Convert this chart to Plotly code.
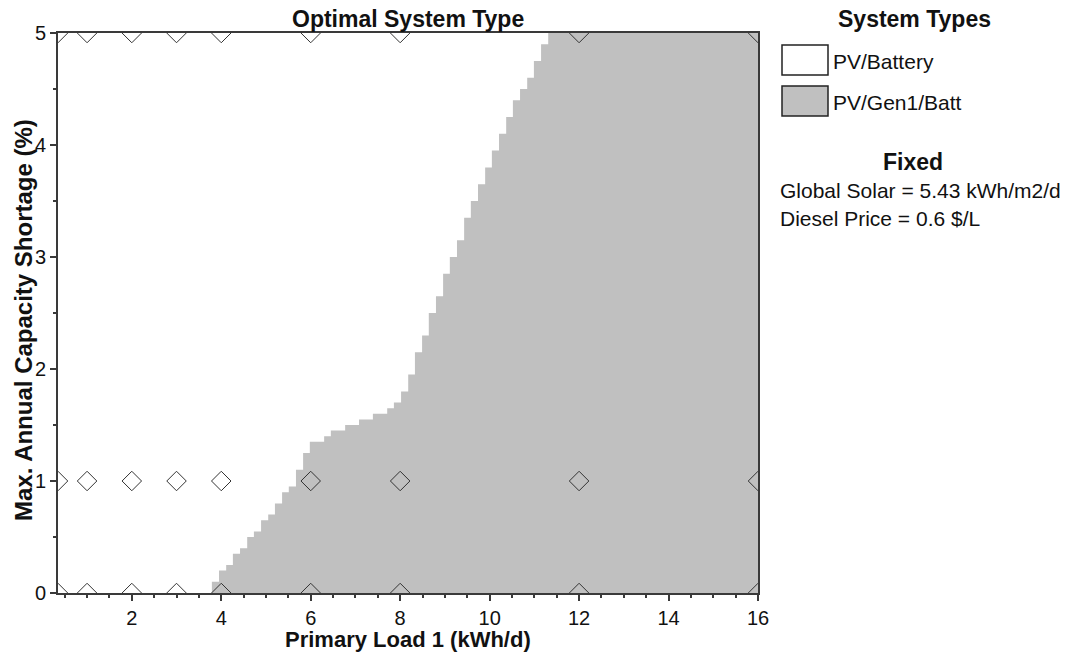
import plotly.graph_objects as go

# ---- data ----
# stepped boundary of the PV/Gen1/Batt region (left edge of each step, height)
boundary_load = [3.79, 3.95, 4.11, 4.26, 4.42, 4.58, 4.73, 4.89, 5.05, 5.20,
                 5.36, 5.51, 5.67, 5.83, 5.98, 6.30, 6.45, 6.77, 7.08, 7.39,
                 7.71, 7.86, 8.02, 8.18, 8.33, 8.49, 8.64, 8.80, 8.96, 9.11,
                 9.27, 9.43, 9.58, 9.74, 9.90, 10.05, 10.21, 10.37, 10.52, 10.68,
                 10.84, 10.99, 11.15, 11.31, 16.0]
boundary_shortage = [0.10, 0.20, 0.25, 0.35, 0.40, 0.50, 0.55, 0.65, 0.70, 0.80,
                     0.90, 0.95, 1.10, 1.25, 1.35, 1.40, 1.45, 1.50, 1.55, 1.60,
                     1.65, 1.70, 1.80, 1.95, 2.15, 2.30, 2.50, 2.65, 2.85, 3.00,
                     3.15, 3.35, 3.50, 3.65, 3.80, 3.95, 4.10, 4.25, 4.40, 4.50,
                     4.60, 4.75, 4.90, 5.00, 5.00]

# sensitivity cases simulated (diamonds)
case_loads = [0.35, 1, 2, 3, 4, 6, 8, 12, 16]
case_shortages = [0, 1, 5]

x_range = [0.35, 16]
y_range = [0, 5]
x_ticks = [2, 4, 6, 8, 10, 12, 14, 16]
y_ticks = [0, 1, 2, 3, 4, 5]

system_types = ["PV/Battery", "PV/Gen1/Batt"]
system_colors = ["#FFFFFF", "#C0C0C0"]
fixed_lines = ["Global Solar = 5.43 kWh/m2/d", "Diesel Price = 0.6 $/L"]

FONT = "Liberation Sans, Arial, sans-serif"
AXC = "#3a3a3a"

W, H = 1066, 653

fig = go.Figure()

fig.add_trace(go.Scatter(
    x=boundary_load, y=boundary_shortage, mode="lines",
    line=dict(shape="hv", width=0, color=system_colors[1]),
    fill="tozeroy", fillcolor=system_colors[1], hoverinfo="skip",
    showlegend=False,
))

dx, dy = [], []
for s in case_shortages:
    for l in case_loads:
        dx.append(l)
        dy.append(s)
fig.add_trace(go.Scatter(
    x=dx, y=dy, mode="markers",
    marker=dict(symbol="diamond-open", size=15, color="#333333",
                line=dict(width=1, color="#333333")),
    showlegend=False, hoverinfo="skip",
))

PW, PH = 700.0, 560.0
L, T = 58, 33


def px2paper(px, py):
    return (px - L) / PW, (T + PH - py) / PH


common = dict(
    ticks="outside", ticklen=6, tickwidth=1.5,
    tickcolor=AXC, showline=True, linecolor=AXC, linewidth=2, mirror=True,
    showgrid=False, zeroline=False, automargin=False,
    tickfont=dict(family=FONT, size=20, color="#111"),
    minor=dict(dtick=0.5, tick0=0, ticks="outside", ticklen=3, tickcolor=AXC, tickwidth=1.5),
)
fig.update_xaxes(range=x_range, tickvals=x_ticks, **common)
fig.update_yaxes(range=y_range, tickvals=y_ticks, **common)

ann = []
bold = dict(family=FONT, size=23, color="#111")
reg = dict(family=FONT, size=21, color="#111")

x, y = px2paper(408, 19)
ann.append(dict(text="<b>Optimal System Type</b>", x=x, y=y, xanchor="center", yanchor="middle", font=bold))
x, y = px2paper(408, 639)
ann.append(dict(text="<b>Primary Load 1 (kWh/d)</b>", x=x, y=y, xanchor="center", yanchor="middle",
                font=dict(family=FONT, size=22, color="#111")))
x, y = px2paper(23, 320)
ann.append(dict(text="<b>Max. Annual Capacity Shortage (%)</b>", x=x, y=y, xanchor="center", yanchor="middle",
                textangle=-90, font=dict(family=FONT, size=24, color="#111")))

x, y = px2paper(914, 19)
ann.append(dict(text="<b>System Types</b>", x=x, y=y, xanchor="center", yanchor="middle", font=bold))

shapes = []
box_tops = [45, 86]
for i, name in enumerate(system_types):
    x0, y0 = px2paper(782, box_tops[i])
    x1, y1 = px2paper(828, box_tops[i] + 30)
    shapes.append(dict(type="rect", xref="paper", yref="paper", x0=x0, x1=x1, y0=y1, y1=y0,
                       fillcolor=system_colors[i], line=dict(color="#222", width=1.5)))
    tx, ty = px2paper(831, box_tops[i] + 16)
    ann.append(dict(text=name, x=tx, y=ty, xanchor="left", yanchor="middle", font=reg))

x, y = px2paper(913, 162)
ann.append(dict(text="<b>Fixed</b>", x=x, y=y, xanchor="center", yanchor="middle", font=bold))
for i, t in enumerate(fixed_lines):
    x, y = px2paper(778, 190 + 28 * i)
    ann.append(dict(text=t, x=x, y=y, xanchor="left", yanchor="middle", font=reg))

for a in ann:
    a.update(xref="paper", yref="paper", showarrow=False)

fig.update_layout(
    width=W, height=H,
    margin=dict(l=L, r=W - L - int(PW), t=T, b=H - T - int(PH), autoexpand=False),
    paper_bgcolor="white", plot_bgcolor="white",
    showlegend=False, annotations=ann, shapes=shapes,
)

# remove the browser's default 8px page margin so the figure fills the window exactly
fig.write_html("out.html",
               config={"displayModeBar": False},
               post_script="document.body.style.margin='0';document.body.style.overflow='hidden';")
